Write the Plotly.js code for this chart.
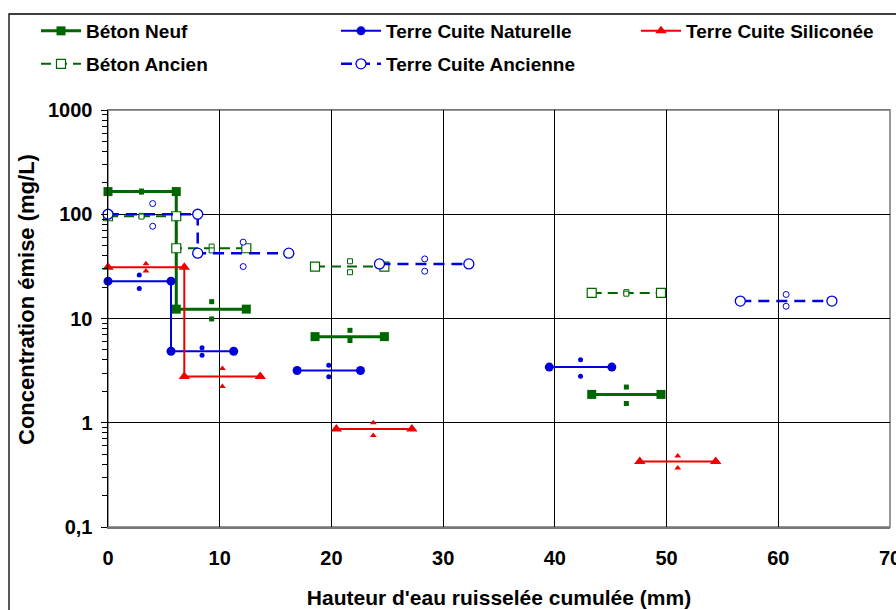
<!DOCTYPE html>
<html>
<head>
<meta charset="utf-8">
<script src="https://cdn.plot.ly/plotly-3.0.1.min.js"></script>
<style>html,body{margin:0;padding:0;background:#fff}#chart{width:896px;height:610px}</style>
</head>
<body>
<div id="chart"></div>
<script>
// ---- Data (x: cumulative runoff depth mm; y: concentration mg/L) ----
const seriesNames = ["Béton Neuf", "Terre Cuite Naturelle", "Terre Cuite Siliconée", "Béton Ancien", "Terre Cuite Ancienne"];
const xTitle = "Hauteur d'eau ruisselée cumulée (mm)";
const yTitle = "Concentration émise (mg/L)";

const betonNeufStart = [0, 6.11, 18.53, 43.3];
const betonNeufEnd   = [6.11, 12.38, 24.74, 49.5];
const betonNeufMean  = [165, 12.3, 6.7, 1.87];
const betonNeufMid   = [3.0, 9.28, 21.66, 46.4];
const betonNeufHigh  = [167, 14.5, 7.7, 2.2];
const betonNeufLow   = [163, 9.9, 6.15, 1.53];

const tcNatStart = [0, 5.64, 16.93, 39.5];
const tcNatEnd   = [5.64, 11.25, 22.6, 45.1];
const tcNatMean  = [22.8, 4.85, 3.17, 3.42];
const tcNatMid   = [2.8, 8.42, 19.76, 42.3];
const tcNatHigh  = [26.2, 5.24, 3.57, 4.02];
const tcNatLow   = [19.4, 4.45, 2.76, 2.80];

const tcSilStart = [0, 6.83, 20.44, 47.6];
const tcSilEnd   = [6.83, 13.63, 27.2, 54.4];
const tcSilMean  = [31.0, 2.78, 0.87, 0.426];
const tcSilMid   = [3.4, 10.24, 23.75, 51.0];
const tcSilHigh  = [33.5, 3.32, 1.0, 0.48];
const tcSilLow   = [28.5, 2.23, 0.755, 0.368];

const betonAncStart = [0, 6.11, 18.53, 43.3];
const betonAncEnd   = [6.11, 12.38, 24.74, 49.5];
const betonAncMean  = [95.7, 47.2, 31.5, 17.6];
const betonAncMid   = [3.0, 9.28, 21.66, 46.4];
const betonAncHigh  = [96.5, 49, 35.4, 17.9];
const betonAncLow   = [95, 45, 27.8, 17.3];

const tcAncStart = [0, 8.03, 24.3, 56.6];
const tcAncEnd   = [8.03, 16.18, 32.3, 64.8];
const tcAncMean  = [100, 42.3, 33.4, 14.7];
const tcAncMid   = [4.0, 12.1, 28.35, 60.7];
const tcAncHigh  = [126.6, 54, 37.3, 17.0];
const tcAncLow   = [76.7, 31.5, 28.4, 13.1];

const yTickVals = [0.1, 1, 10, 100, 1000];
const yTickText = ["0,1", "1", "10", "100", "1000"];
const xTickVals = [0, 10, 20, 30, 40, 50, 60, 70];

// ---- Helpers ----
function stepLine(starts, ends, means) {
  const x = [], y = [];
  for (let i = 0; i < starts.length; i++) {
    if (i > 0 && starts[i] !== ends[i - 1]) { x.push(null); y.push(null); }
    x.push(starts[i], ends[i]);
    y.push(means[i], means[i]);
  }
  return {x, y};
}
function spread(mids, highs, lows) {
  const x = [], y = [];
  for (let i = 0; i < mids.length; i++) {
    x.push(mids[i], mids[i]);
    y.push(highs[i], lows[i]);
  }
  return {x, y};
}

const GREEN = "#006600", BLUE = "#0000dd", RED = "#ee0000";

const defs = [
  {name: seriesNames[0], legend: "legend",  s: betonNeufStart, e: betonNeufEnd, m: betonNeufMean, mid: betonNeufMid, hi: betonNeufHigh, lo: betonNeufLow,
   line: {color: GREEN, width: 3}, marker: {symbol: "square", size: 9, color: GREEN}, small: {symbol: "square", size: 5, color: GREEN}},
  {name: seriesNames[1], legend: "legend2", s: tcNatStart, e: tcNatEnd, m: tcNatMean, mid: tcNatMid, hi: tcNatHigh, lo: tcNatLow,
   line: {color: BLUE, width: 2}, marker: {symbol: "circle", size: 9, color: BLUE}, small: {symbol: "circle", size: 5, color: BLUE}},
  {name: seriesNames[2], legend: "legend3", s: tcSilStart, e: tcSilEnd, m: tcSilMean, mid: tcSilMid, hi: tcSilHigh, lo: tcSilLow,
   line: {color: RED, width: 2}, marker: {symbol: "triangle-up", size: 10, color: RED}, small: {symbol: "triangle-up", size: 6, color: RED}},
  {name: seriesNames[3], legend: "legend4", s: betonAncStart, e: betonAncEnd, m: betonAncMean, mid: betonAncMid, hi: betonAncHigh, lo: betonAncLow,
   line: {color: GREEN, width: 2, dash: "10px,6px"}, marker: {symbol: "square", size: 9, color: "#fff", line: {width: 1.2, color: GREEN}},
   small: {symbol: "square", size: 5, color: "#fff", line: {width: 1, color: GREEN}}},
  {name: seriesNames[4], legend: "legend5", s: tcAncStart, e: tcAncEnd, m: tcAncMean, mid: tcAncMid, hi: tcAncHigh, lo: tcAncLow,
   line: {color: BLUE, width: 2.5, dash: "11px,7px"}, marker: {symbol: "circle", size: 10, color: "#fff", line: {width: 1.3, color: BLUE}},
   small: {symbol: "circle", size: 6, color: "#fff", line: {width: 1, color: BLUE}}}
];

const traces = [];
defs.forEach(d => {
  const st = stepLine(d.s, d.e, d.m);
  traces.push({type: "scatter", mode: "lines+markers", name: d.name, legend: d.legend,
    x: st.x, y: st.y, line: d.line, marker: d.marker, connectgaps: false, cliponaxis: false});
  const sp = spread(d.mid, d.hi, d.lo);
  traces.push({type: "scatter", mode: "markers", showlegend: false, hoverinfo: "skip",
    x: sp.x, y: sp.y, marker: d.small});
});

// plot area pixels: left 108, right 890, top 110, bottom 527
const W = 782, H = 417;
function px(p) { return (p - 108) / W; }
function py(p) { return (527 - p) / H; }

const FAM = "Liberation Sans, Arial, sans-serif";
const legFont = {family: FAM, size: 19, color: "#000", weight: 700};
function leg(xpix, ypix) {
  return {x: px(xpix), y: py(ypix), xanchor: "left", yanchor: "middle", bgcolor: "rgba(0,0,0,0)",
    borderwidth: 0, font: legFont, itemwidth: 40};
}

const layout = {
  width: 896, height: 610,
  margin: {l: 108, r: 6, t: 110, b: 83},
  paper_bgcolor: "#fff", plot_bgcolor: "#fff",
  font: {family: FAM, size: 20, color: "#000", weight: 700},
  showlegend: true,
  legend: leg(36, 31),
  legend2: leg(336, 31),
  legend3: leg(636, 31),
  legend4: leg(36, 64),
  legend5: leg(336, 64),
  xaxis: {
    range: [0, 70], tickvals: xTickVals, ticks: "", showgrid: true, gridcolor: "#000", gridwidth: 1,
    zeroline: false, showline: true, linecolor: "#777", linewidth: 1.5, mirror: true,
    tickfont: {size: 20, weight: 700}, ticklabelstandoff: 12, ticklabeloverflow: "allow",
    title: {text: xTitle, font: {size: 21, weight: 700}, standoff: 23}
  },
  yaxis: {
    type: "log", range: [-1, 3], tickvals: yTickVals, ticktext: yTickText,
    ticks: "outside", ticklen: 6, tickcolor: "#000", tickwidth: 1,
    minor: {ticks: "outside", ticklen: 5, tickcolor: "#000", showgrid: false,
            tickvals: [0.2,0.3,0.4,0.5,0.6,0.7,0.8,0.9,2,3,4,5,6,7,8,9,20,30,40,50,60,70,80,90,200,300,400,500,600,700,800,900]},
    showgrid: true, gridcolor: "#000", gridwidth: 1, zeroline: false,
    showline: true, linecolor: "#000", linewidth: 1.5,
    tickfont: {size: 20, weight: 700}, ticklabelstandoff: 4
  },
  annotations: [
    {text: yTitle, xref: "paper", yref: "paper", x: px(26), y: py(300), xanchor: "center", yanchor: "middle",
     textangle: -90, showarrow: false, font: {family: FAM, size: 22, weight: 700, color: "#000"}}
  ],
  shapes: [
    {type: "rect", xref: "paper", yref: "paper", x0: 0, x1: 1, y0: 0, y1: 1,
     line: {color: "#777", width: 1.5}, layer: "below"},
    {type: "rect", xref: "paper", yref: "paper", x0: px(9), x1: px(900), y0: py(14), y1: py(640),
     line: {color: "#000", width: 1.3}, layer: "above"}
  ]
};

Plotly.newPlot("chart", traces, layout, {staticPlot: true, displayModeBar: false});
</script>
</body>
</html>
